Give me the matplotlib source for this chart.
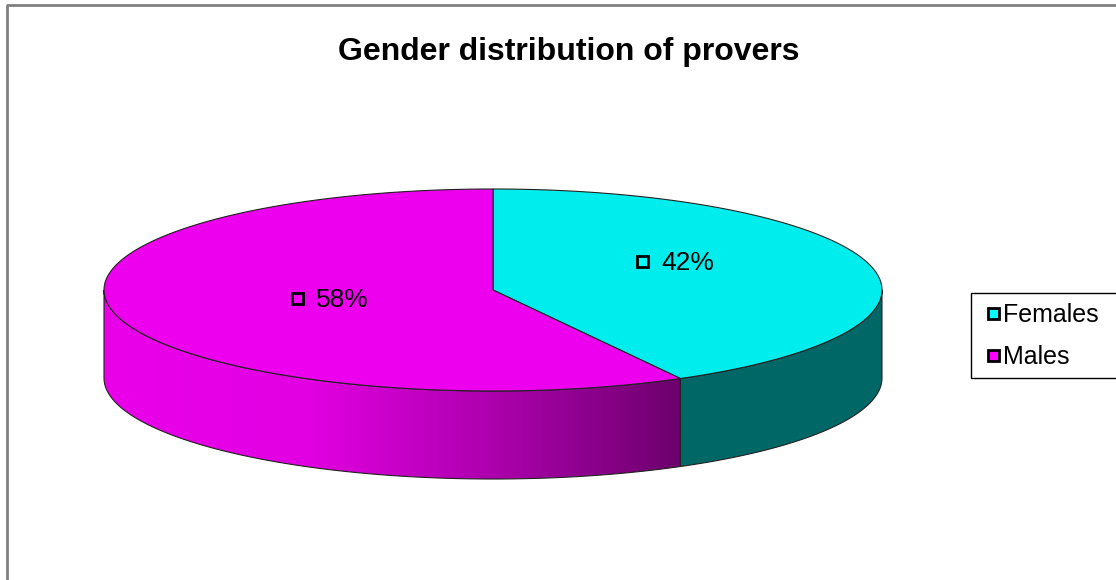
import numpy as np
import matplotlib
matplotlib.use("Agg")
import matplotlib.pyplot as plt
from matplotlib.patches import Polygon, Rectangle
from matplotlib.colors import LinearSegmentedColormap

plt.rcParams['font.family'] = ['Liberation Sans', 'DejaVu Sans']

# data
labels = ['Females', 'Males']
values = [42, 58]
top_colors = ['#00eded', '#ed00ed']
marker_colors = ['#00ffff', '#ff00ff']
title = 'Gender distribution of provers'

# layout of the 3d pie (pixels)
cx, cy = 493, 290
rx, ry = 389, 101
depth = 88
# where each data label sits, as fraction of radius along the slice mid angle
label_frac = [(0.483, 1.11), (0.432, 0.36)]

fig = plt.figure(figsize=(11.16, 5.8), dpi=100)
ax = fig.add_axes([0, 0, 1, 1])
ax.set_xlim(0, 1116)
ax.set_ylim(580, 0)
ax.axis('off')

# outer frame
ax.plot([7, 7, 1120], [585, 5, 5], color='#808080', lw=2, solid_capstyle='butt')


def ell(t, dy=0):
    return np.column_stack([cx + rx * np.cos(t), cy - ry * np.sin(t) + dy])


# angles: start at 12 o'clock, go clockwise
fracs = np.array(values) / sum(values)
starts = np.pi / 2 - 2 * np.pi * np.concatenate([[0], np.cumsum(fracs)[:-1]])
ends = starts - 2 * np.pi * fracs

side_cmaps = [
    LinearSegmentedColormap.from_list('f', ['#006767', '#006767']),
    LinearSegmentedColormap.from_list('m', [(0, '#ea00ea'), (0.35, '#e200e2'),
                                            (0.7, '#a800a8'), (1, '#6c006c')]),
]

# side faces (front half only)
for i in range(len(values)):
    a, b = ends[i] % (2 * np.pi), starts[i] % (2 * np.pi)
    if b <= a:
        b += 2 * np.pi
    segs = []
    for off in (0, 2 * np.pi):
        lo = max(a, np.pi + off)
        hi = min(b, 2 * np.pi + off)
        if hi > lo:
            segs.append((lo, hi))
    for lo, hi in segs:
        t = np.linspace(lo, hi, 200)
        pts = np.vstack([ell(t), ell(t[::-1], depth)])
        poly = Polygon(pts, closed=True, facecolor='none', edgecolor='#222222', lw=0.8, zorder=3)
        ax.add_patch(poly)
        x0, x1 = pts[:, 0].min(), pts[:, 0].max()
        grad = np.linspace(0, 1, 256).reshape(1, -1)
        im = ax.imshow(grad, cmap=side_cmaps[i], aspect='auto',
                       extent=[x0, x1, pts[:, 1].max(), pts[:, 1].min()], zorder=2)
        im.set_clip_path(poly)

# top faces
for i in range(len(values)):
    t = np.linspace(starts[i], ends[i], 300)
    pts = np.vstack([[cx, cy], ell(t)])
    ax.add_patch(Polygon(pts, closed=True, facecolor=top_colors[i],
                         edgecolor='#222222', lw=0.8, zorder=4))

# data labels
for i in range(len(values)):
    mid = (starts[i] + ends[i]) / 2
    gx = cx + rx * label_frac[i][0] * np.cos(mid)
    gy = cy - ry * label_frac[i][1] * np.sin(mid)
    ax.add_patch(Rectangle((gx - 38, gy - 6), 11, 11, facecolor=marker_colors[i],
                           edgecolor='black', lw=2, zorder=6))
    ax.text(gx - 14, gy + 1, f'{values[i]}%', fontsize=19, ha='left', va='center', zorder=6)

ax.text(569, 52, title, fontsize=23, fontweight='bold', ha='center', va='center')

# legend
ax.add_patch(Rectangle((971, 293), 150, 85, facecolor='white', edgecolor='black', lw=1, zorder=5))
for i, lab in enumerate(labels):
    y = 314 + 42 * i
    ax.add_patch(Rectangle((988, y - 6), 11, 11, facecolor=marker_colors[i],
                           edgecolor='black', lw=2, zorder=6))
    ax.text(1003, y + 1, lab, fontsize=18, ha='left', va='center', zorder=6)

fig.savefig('out.png', dpi=100)
